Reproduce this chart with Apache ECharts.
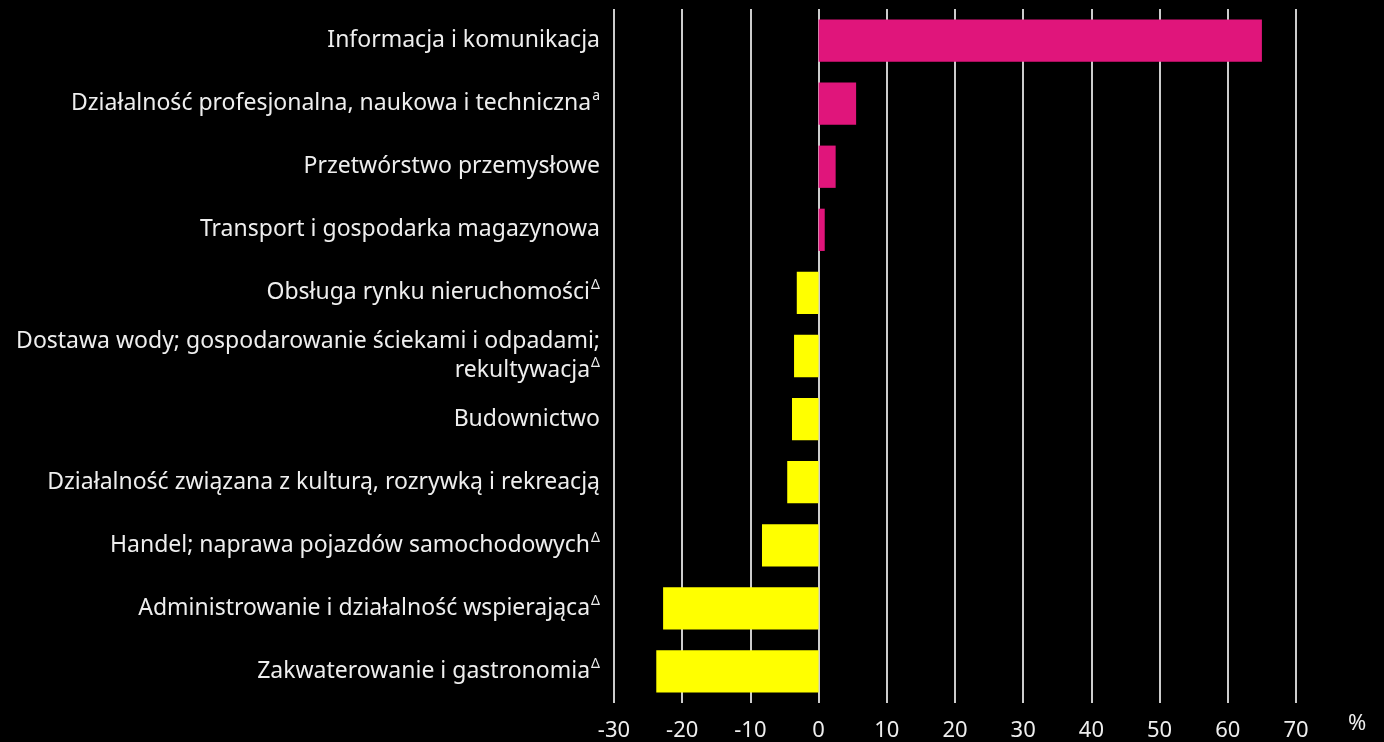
<!DOCTYPE html>
<html>
<head>
<meta charset="utf-8">
<script src="https://cdn.jsdelivr.net/npm/echarts@6/dist/echarts.min.js"></script>
<style>
  html, body { margin: 0; padding: 0; background: #000; }
  #chart { width: 1384px; height: 742px; }
</style>
</head>
<body>
<div id="chart"></div>
<script>
// sectors, top to bottom
var categories = [
  'Informacja i komunikacja',
  'Działalność profesjonalna, naukowa i techniczna{sup|a}',
  'Przetwórstwo przemysłowe',
  'Transport i gospodarka magazynowa',
  'Obsługa rynku nieruchomości{sup|Δ}',
  'Dostawa wody; gospodarowanie ściekami i odpadami;\nrekultywacja{sup|Δ}',
  'Budownictwo',
  'Działalność związana z kulturą, rozrywką i rekreacją',
  'Handel; naprawa pojazdów samochodowych{sup|Δ}',
  'Administrowanie i działalność wspierająca{sup|Δ}',
  'Zakwaterowanie i gastronomia{sup|Δ}'
];
var values = [65.0, 5.5, 2.5, 0.9, -3.2, -3.6, -3.9, -4.6, -8.3, -22.8, -23.8];
var xTicks = { min: -30, max: 70, interval: 10 };

var posColor = '#e0157b';
var negColor = '#ffff00';

var chart = echarts.init(document.getElementById('chart'));
chart.setOption({
  backgroundColor: '#000',
  animation: false,
  grid: { left: 614, right: 88, top: 9, bottom: 38 },
  xAxis: {
    type: 'value',
    min: xTicks.min,
    max: xTicks.max,
    interval: xTicks.interval,
    name: '%',
    nameLocation: 'end',
    nameGap: 52,
    nameTextStyle: { color: '#eee', fontSize: 22, fontFamily: 'Noto Sans', verticalAlign: 'top', padding: [10, 0, 0, 0] },
    axisLine: { show: false },
    axisTick: { show: false },
    axisLabel: { color: '#eee', fontSize: 22, fontFamily: 'Noto Sans', margin: 17 },
    splitLine: { show: true, lineStyle: { color: '#cccccc', width: 2 } }
  },
  yAxis: {
    type: 'category',
    data: categories,
    inverse: true,
    axisLine: { show: false },
    axisTick: { show: false },
    axisLabel: {
      margin: 14,
      color: '#eee',
      fontSize: 23,
      fontFamily: 'Noto Sans',
      lineHeight: 29,
      align: 'right',
      rich: {
        sup: { fontSize: 14, verticalAlign: 'top', color: '#eee', fontFamily: 'Noto Sans', padding: [0, 0, 12, 1] }
      }
    }
  },
  series: [{
    type: 'bar',
    data: values,
    barCategoryGap: '33%',
    itemStyle: {
      color: function (p) { return p.value >= 0 ? posColor : negColor; }
    }
  }]
});
</script>
</body>
</html>
